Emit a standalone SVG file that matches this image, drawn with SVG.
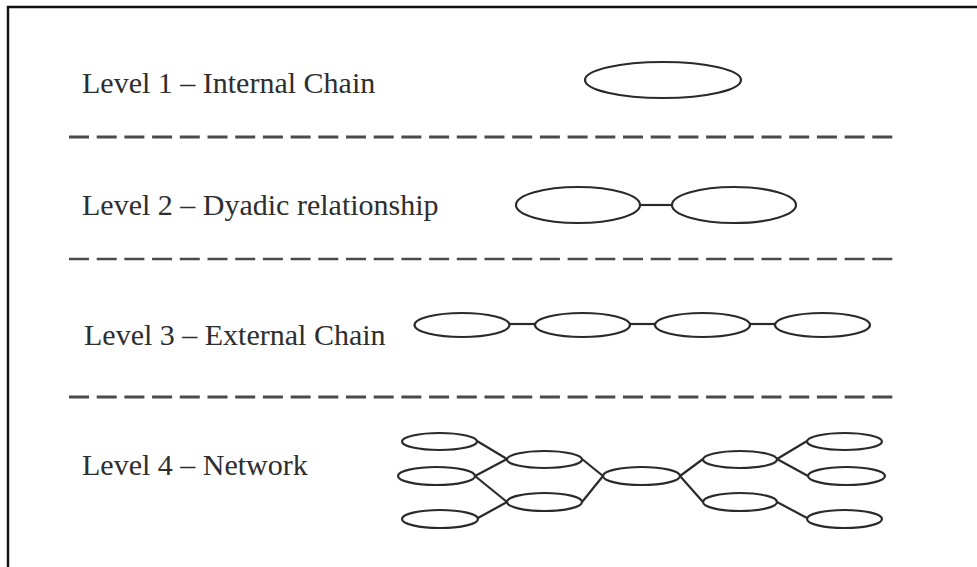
<svg xmlns="http://www.w3.org/2000/svg" width="977" height="567" viewBox="0 0 977 567">
  <style>
    .lbl { font-family: "Liberation Serif", "Times New Roman", serif; font-size: 30px; fill: #2e2e2e; }
    .node { fill: none; stroke: #2a2a2a; stroke-width: 2.2; }
    .link { fill: none; stroke: #2a2a2a; stroke-width: 2.2; }
    .sep { fill: none; stroke: #4a4a4a; stroke-dasharray: 20 7.7; }
    .sep.bold { stroke-width: 3.2; }
    .sep.thin { stroke-width: 2.4; }
  </style>
  <rect width="977" height="567" fill="#ffffff"/>
  <!-- frame: top and left edges only -->
  <path d="M8 567 V7 H977" fill="none" stroke="#111111" stroke-width="2.4"/>

  <!-- level separators -->
  <g id="separators">
    <line class="sep bold" x1="69" y1="137" x2="896" y2="137"/>
    <line class="sep thin" x1="69" y1="259" x2="896" y2="259"/>
    <line class="sep bold" x1="69" y1="397" x2="896" y2="397"/>
  </g>

  <!-- labels -->
  <g id="labels">
    <text class="lbl" x="82" y="93">Level 1 – Internal Chain</text>
    <text class="lbl" x="82" y="215">Level 2 – Dyadic relationship</text>
    <text class="lbl" x="84" y="345">Level 3 – External Chain</text>
    <text class="lbl" x="82" y="475">Level 4 – Network</text>
  </g>

  <!-- connectors -->
  <g id="connectors">
    <!-- level 2 -->
    <line class="link" x1="640" y1="205" x2="672" y2="205"/>
    <!-- level 3 -->
    <line class="link" x1="510" y1="324" x2="535" y2="324"/>
    <line class="link" x1="630" y1="324" x2="655" y2="324"/>
    <line class="link" x1="750" y1="324" x2="775" y2="324"/>
    <!-- level 4 -->
    <line class="link" x1="477" y1="441" x2="507" y2="459"/>
    <line class="link" x1="475" y1="476" x2="507" y2="459"/>
    <line class="link" x1="475" y1="476" x2="507" y2="502"/>
    <line class="link" x1="478" y1="518" x2="507" y2="502"/>
    <line class="link" x1="582" y1="459" x2="603" y2="476"/>
    <line class="link" x1="582" y1="502" x2="603" y2="476"/>
    <line class="link" x1="680" y1="476" x2="703" y2="459"/>
    <line class="link" x1="680" y1="476" x2="703" y2="502"/>
    <line class="link" x1="777" y1="459" x2="807" y2="441"/>
    <line class="link" x1="777" y1="459" x2="808" y2="476"/>
    <line class="link" x1="777" y1="502" x2="807" y2="518"/>
  </g>

  <!-- level 1 -->
  <g id="l1-node"><ellipse class="node" cx="663" cy="80" rx="78" ry="18"/></g>

  <!-- level 2 -->
  <g id="l2-a"><ellipse class="node" cx="578" cy="205" rx="62" ry="18"/></g>
  <g id="l2-b"><ellipse class="node" cx="734" cy="205" rx="62" ry="18"/></g>

  <!-- level 3 -->
  <g id="l3-a"><ellipse class="node" cx="462" cy="325" rx="47.5" ry="12"/></g>
  <g id="l3-b"><ellipse class="node" cx="582.5" cy="325" rx="47.5" ry="12"/></g>
  <g id="l3-c"><ellipse class="node" cx="702.5" cy="325" rx="47.5" ry="12"/></g>
  <g id="l3-d"><ellipse class="node" cx="822.5" cy="325" rx="47.5" ry="12"/></g>

  <!-- level 4 -->
  <g id="l4-l1"><ellipse class="node" cx="439.5" cy="441.5" rx="37.5" ry="8.5"/></g>
  <g id="l4-l2"><ellipse class="node" cx="436.5" cy="476" rx="38.5" ry="9"/></g>
  <g id="l4-l3"><ellipse class="node" cx="440" cy="519" rx="38" ry="9"/></g>
  <g id="l4-m1"><ellipse class="node" cx="544.5" cy="459.5" rx="37.5" ry="8.5"/></g>
  <g id="l4-m2"><ellipse class="node" cx="544.5" cy="502" rx="37.5" ry="9"/></g>
  <g id="l4-c"><ellipse class="node" cx="641.5" cy="476" rx="38.5" ry="9"/></g>
  <g id="l4-n1"><ellipse class="node" cx="740" cy="459.5" rx="37" ry="8.5"/></g>
  <g id="l4-n2"><ellipse class="node" cx="740" cy="502" rx="37" ry="9"/></g>
  <g id="l4-r1"><ellipse class="node" cx="844.5" cy="441.5" rx="37.5" ry="8.5"/></g>
  <g id="l4-r2"><ellipse class="node" cx="846.5" cy="476" rx="38.5" ry="9"/></g>
  <g id="l4-r3"><ellipse class="node" cx="844.5" cy="519" rx="37.5" ry="9"/></g>
</svg>
